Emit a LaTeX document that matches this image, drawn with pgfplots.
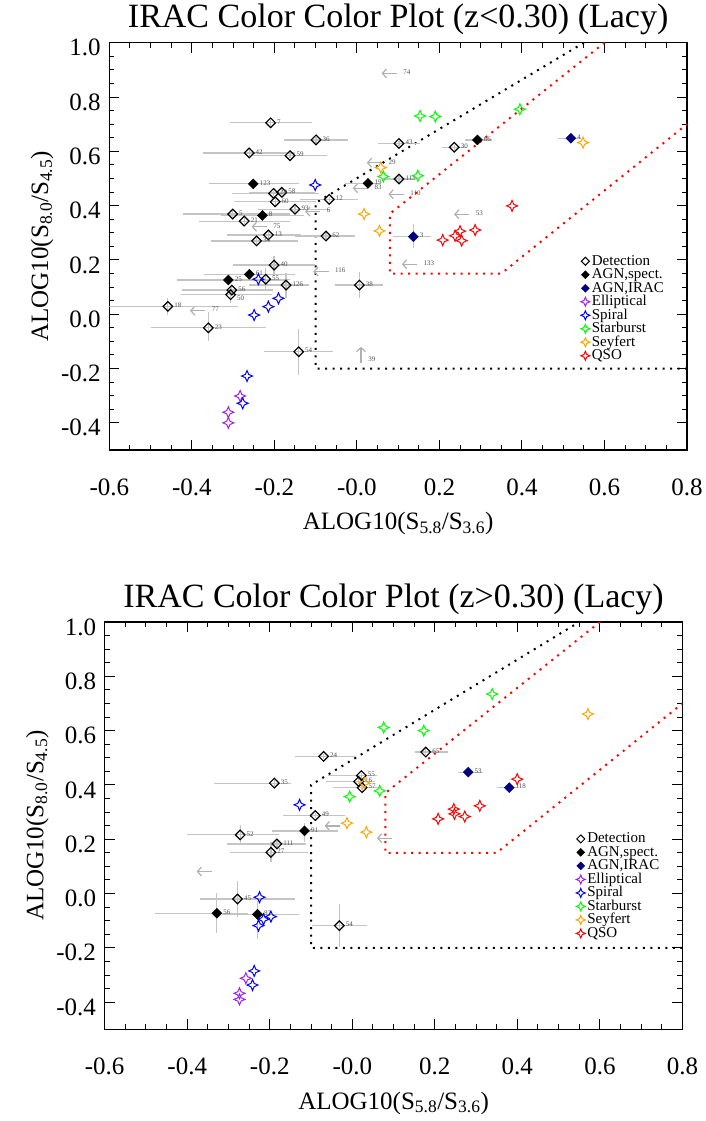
\documentclass[border=0pt]{standalone}
\usepackage{fontspec}
\setmainfont{Liberation Serif}
\usepackage{pgfplots}
\usepackage{pgfplotstable}
\pgfplotsset{compat=1.18}
\usetikzlibrary{arrows.meta}

\definecolor{ellip}{HTML}{A020F0}
\definecolor{spiral}{HTML}{0000FF}
\definecolor{starb}{HTML}{00FF00}
\definecolor{seyf}{HTML}{FFA500}
\definecolor{qso}{HTML}{FF0000}
\definecolor{agnirac}{HTML}{000080}
\definecolor{errgray}{HTML}{C4C4C4}
\definecolor{arrgray}{HTML}{B0B0B0}
\definecolor{labgray}{HTML}{505050}

% four-pointed star used for the template tracks
\pgfdeclareplotmark{star4}{%
  \pgfpathmoveto{\pgfqpoint{0pt}{\pgfplotmarksize}}%
  \pgfpathlineto{\pgfqpoint{.3\pgfplotmarksize}{.3\pgfplotmarksize}}%
  \pgfpathlineto{\pgfqpoint{\pgfplotmarksize}{0pt}}%
  \pgfpathlineto{\pgfqpoint{.3\pgfplotmarksize}{-.3\pgfplotmarksize}}%
  \pgfpathlineto{\pgfqpoint{0pt}{-\pgfplotmarksize}}%
  \pgfpathlineto{\pgfqpoint{-.3\pgfplotmarksize}{-.3\pgfplotmarksize}}%
  \pgfpathlineto{\pgfqpoint{-\pgfplotmarksize}{0pt}}%
  \pgfpathlineto{\pgfqpoint{-.3\pgfplotmarksize}{.3\pgfplotmarksize}}%
  \pgfpathclose\pgfusepathqstroke}
% square diamond, open and filled
\pgfdeclareplotmark{dia}{%
  \pgfpathmoveto{\pgfqpoint{0pt}{\pgfplotmarksize}}%
  \pgfpathlineto{\pgfqpoint{\pgfplotmarksize}{0pt}}%
  \pgfpathlineto{\pgfqpoint{0pt}{-\pgfplotmarksize}}%
  \pgfpathlineto{\pgfqpoint{-\pgfplotmarksize}{0pt}}%
  \pgfpathclose\pgfusepathqstroke}
\pgfdeclareplotmark{dia*}{%
  \pgfpathmoveto{\pgfqpoint{0pt}{\pgfplotmarksize}}%
  \pgfpathlineto{\pgfqpoint{\pgfplotmarksize}{0pt}}%
  \pgfpathlineto{\pgfqpoint{0pt}{-\pgfplotmarksize}}%
  \pgfpathlineto{\pgfqpoint{-\pgfplotmarksize}{0pt}}%
  \pgfpathclose\pgfusepathqfillstroke}

% ---------- z < 0.30 ----------
\pgfplotstableread{
x y xm xp ym yp lab
-0.209 0.705 0.098 0.100 0.01 0.01 7
-0.099 0.642 0.077 0.077 0.01 0.01 36
-0.261 0.594 0.111 0.110 0.01 0.01 42
-0.162 0.584 0.090 0.090 0.01 0.01 59
0.102 0.629 0.050 0.050 0.01 0.01 43
0.236 0.615 0.030 0.030 0.01 0.01 30
-0.067 0.423 0.070 0.070 0.01 0.01 12
-0.202 0.445 0.100 0.110 0.01 0.01 28
-0.182 0.449 0.080 0.080 0.01 0.01 58
-0.198 0.414 0.100 0.100 0.01 0.01 60
-0.150 0.387 0.090 0.085 0.01 0.01 93
-0.301 0.369 0.120 0.140 0.01 0.01 5
-0.273 0.343 0.110 0.110 0.01 0.01 21
-0.243 0.270 0.110 0.100 0.01 0.01 34
-0.2145 0.292 0.100 0.080 0.01 0.01 13
-0.075 0.288 0.075 0.070 0.01 0.01 62
-0.2007 0.181 0.100 0.100 0.040 0.035 40
-0.1716 0.1075 0.090 0.055 0.048 0.045 126
-0.221 0.129 0.060 0.060 0.040 0.040 55
-0.303 0.089 0.120 0.100 0.020 0.020 56
-0.458 0.029 0.142 0.170 0.030 0.030 18
-0.360 -0.050 0.140 0.140 0.050 0.060 23
0.006 0.1075 0.059 0.058 0.047 0.047 38
-0.141 -0.138 0.084 0.083 0.084 0.085 54
0.102 0.498 0.040 0.040 0.01 0.01 113
}\detA
% detection whose label sits just below its neighbour's
\pgfplotstableread{
x y xm xp ym yp lab
-0.306 0.072 0.120 0.100 0.030 0.030 50
}\detAlow
\pgfplotstableread{
x y xm xp ym yp lab
-0.251 0.480 0.108 0.110 0.01 0.01 123
-0.229 0.364 0.100 0.100 0.01 0.01 8
0.027 0.482 0.055 0.030 0.01 0.01 19
0.292 0.642 0.030 0.035 0.01 0.01 66
-0.2606 0.147 0.110 0.110 0.01 0.01 61
-0.3115 0.126 0.125 0.140 0.01 0.01 25
}\agnA
\pgfplotstableread{
x y xm xp ym yp lab
0.1367 0.2855 0.048 0.042 0.043 0.048 3
0.5185 0.648 0.030 0.025 0.01 0.01 4
}\iracA
\pgfplotstableread{
c x y
E -0.283 -0.301
E -0.3115 -0.361
E -0.3115 -0.400
S -0.101 0.476
S -0.2388 0.129
S -0.190 0.0585
S -0.2145 0.028
S -0.249 -0.003
S -0.2662 -0.2276
S -0.2767 -0.328
B 0.153 0.730
B 0.190 0.728
B 0.395 0.755
B 0.064 0.507
B 0.1476 0.510
Y 0.058 0.540
Y 0.0175 0.369
Y 0.0546 0.307
Y 0.548 0.632
Q 0.376 0.399
Q 0.208 0.273
Q 0.238 0.289
Q 0.250 0.306
Q 0.254 0.271
Q 0.2866 0.310
}\tplA
% upper limits: tail position, arrow points to smaller x
\pgfplotstableread{
x y lab
0.097 0.887 74
0.061 0.558 29
0.027 0.464 83
0.1135 0.442 110
0.2726 0.368 53
-0.0886 0.378 6
-0.218 0.322 75
-0.0685 0.157 116
-0.3674 0.013 77
0.146 0.184 133
}\arrA

% ---------- z > 0.30 ----------
\pgfplotstableread{
x y xm xp ym yp lab
-0.0695 0.505 0.070 0.075 0.01 0.01 24
-0.189 0.4066 0.145 0.040 0.01 0.01 35
0.022 0.4346 0.080 0.038 0.01 0.01 55
0.0154 0.4125 0.080 0.040 0.01 0.01 16
0.0237 0.390 0.070 0.040 0.01 0.01 57
-0.0897 0.287 0.078 0.072 0.01 0.01 49
0.178 0.521 0.025 0.055 0.01 0.01 65
-0.2717 0.216 0.130 0.095 0.037 0.037 52
-0.1826 0.1828 0.120 0.070 0.01 0.01 111
-0.1972 0.152 0.100 0.090 0.037 0.036 27
-0.2782 -0.020 0.090 0.140 0.065 0.065 45
-0.0314 -0.1183 0.067 0.067 0.078 0.080 54
}\detB
\pgfplotstableread{
x y xm xp ym yp lab
-0.1157 0.2307 0.080 0.080 0.040 0.030 91
-0.3282 -0.0726 0.150 0.075 0.073 0.073 56
-0.2297 -0.0763 0.087 0.100 0.090 0.050 82
}\agnB
\pgfplotstableread{
x y xm xp ym yp lab
0.2809 0.447 0.025 0.035 0.01 0.01 53
0.3803 0.3903 0.030 0.020 0.01 0.01 118
}\iracB
\pgfplotstableread{
c x y
E -0.2579 -0.312
E -0.2734 -0.3675
E -0.2734 -0.390
S -0.1278 0.3266
S -0.2248 -0.0136
S -0.2151 -0.0947
S -0.1972 -0.085
S -0.2273 -0.118
S -0.2377 -0.285
S -0.2418 -0.337
B 0.076 0.6115
B 0.339 0.7346
B 0.1732 0.600
B -0.0064 0.357
B 0.0664 0.378
Y 0.571 0.661
Y 0.029 0.4066
Y -0.0128 0.2591
Y 0.034 0.226
Q 0.3997 0.4213
Q 0.309 0.323
Q 0.246 0.311
Q 0.2476 0.2934
Q 0.2726 0.2835
Q 0.208 0.275
}\tplB
\pgfplotstableread{
x y
-0.030 0.249
0.097 0.2038
-0.340 0.081
}\arrB

\pgfplotsset{
  irac/.style={
    scale only axis, width=577.7pt, height=407.3pt,
    xmin=-0.6, xmax=0.8, ymin=-0.5, ymax=1.0,
    xtick={-0.6,-0.4,-0.2,0,0.2,0.4,0.6,0.8},
    xticklabels={-0.6,-0.4,-0.2,-0.0,0.2,0.4,0.6,0.8},
    ytick={-0.4,-0.2,0,0.2,0.4,0.6,0.8,1.0},
    yticklabels={-0.4,-0.2,0.0,0.2,0.4,0.6,0.8,1.0},
    minor tick num=3,
    tick align=inside, xtick pos=both, ytick pos=both,
    xticklabel pos=lower, yticklabel pos=left,
    major tick length=10pt, minor tick length=5pt,
    every tick/.style={black, line width=1pt},
    axis line style={black, line width=1.5pt},
    tick label style={font=\fontsize{25}{25}\selectfont},
    xticklabel style={anchor=base, yshift=-45pt},
    yticklabel style={anchor=east, inner sep=0pt, xshift=-8.5pt, yshift=-5pt},
    title style={font=\fontsize{34}{34}\selectfont, at={(axis description cs:0.5,1.022)}, anchor=base},
    label style={font=\fontsize{25}{25}\selectfont},
    xlabel style={at={(axis description cs:0.5,-0.196)}, anchor=base},
    ylabel style={at={(axis description cs:-0.106,0.5)}, anchor=base},
    xlabel={ALOG10(S\textsubscript{5.8}/S\textsubscript{3.6})},
    ylabel={ALOG10(S\textsubscript{8.0}/S\textsubscript{4.5})},
    legend style={draw=none, fill=none, anchor=north west,
      font=\fontsize{15}{15}\selectfont, row sep=0pt,
      nodes={inner ysep=0pt, text height=10.5pt, text depth=3pt}},
    legend cell align=left,
    legend image code/.code={\draw[#1] plot coordinates {(0pt,0pt)};},
  },
  errs/.style={
    error bars/.cd, x dir=both, x explicit, y dir=both, y explicit,
    error mark=none, error bar style={errgray, line width=1.2pt, solid}},
  numlab/.style={nodes near coords, point meta=explicit symbolic,
    nodes near coords style={font=\fontsize{7}{7}\selectfont, text=labgray,
      anchor=west, xshift=3pt, yshift=1pt}},
  tpl/.style={scatter, only marks, mark=star4, mark size=5.5pt, line width=1pt,
    scatter src=explicit symbolic,
    scatter/classes={E={ellip}, S={spiral}, B={starb}, Y={seyf}, Q={qso}}},
  limarr/.style={arrgray, line width=1.2pt, -{Straight Barb[length=4pt,width=9pt]},
    quiver={u=-0.037, v=0}},
  dotline/.style={line width=2pt, dash pattern=on 2pt off 5.5pt},
}

\newcommand{\iraclegend}{%
  \addlegendimage{only marks, mark=dia, mark size=4pt, black, line width=1pt}
  \addlegendentry{Detection}
  \addlegendimage{only marks, mark=dia*, mark size=4pt, black}
  \addlegendentry{AGN,spect.}
  \addlegendimage{only marks, mark=dia*, mark size=4pt, agnirac, fill=agnirac}
  \addlegendentry{AGN,IRAC}
  \addlegendimage{only marks, mark=star4, mark size=4.5pt, ellip, line width=1pt}
  \addlegendentry{Elliptical}
  \addlegendimage{only marks, mark=star4, mark size=4.5pt, spiral, line width=1pt}
  \addlegendentry{Spiral}
  \addlegendimage{only marks, mark=star4, mark size=4.5pt, starb, line width=1pt}
  \addlegendentry{Starburst}
  \addlegendimage{only marks, mark=star4, mark size=4.5pt, seyf, line width=1pt}
  \addlegendentry{Seyfert}
  \addlegendimage{only marks, mark=star4, mark size=4.5pt, qso, line width=1pt}
  \addlegendentry{QSO}}

\begin{document}
\begin{tikzpicture}
\useasboundingbox (0,0) rectangle (706pt,-1121pt);

\begin{axis}[irac, at={(109.3pt,-450pt)}, anchor=south west,
  title={IRAC Color Color Plot (z<0.30) (Lacy)},
  legend style={at={(axis cs:0.535,0.228)}}]
\addplot[forget plot, dotline, black] coordinates {(0.8,-0.2) (-0.1,-0.2) (-0.1,0.41) (0.55,1.0)};
\addplot[forget plot, dotline, qso] coordinates {(0.6,1.0) (0.08,0.37) (0.08,0.15) (0.35,0.15) (0.8,0.70)};
\addplot[forget plot, limarr] table[x=x, y=y] {\arrA};
\addplot[forget plot, draw=none, numlab] table[x=x, y=y, meta=lab] {\arrA};
\addplot[forget plot, arrgray, line width=1.2pt, -{Straight Barb[length=4pt,width=9pt]}, quiver={u=0, v=0.061}]
  coordinates {(0.010,-0.181)};
\addplot[forget plot, draw=none, numlab] coordinates {(0.012,-0.168) [39]};
\addplot[forget plot, only marks, mark=dia, mark size=4.8pt, black, line width=1.2pt, errs]
  table[x=x, y=y, x error minus=xm, x error plus=xp, y error minus=ym, y error plus=yp] {\detA};
\addplot[forget plot, only marks, mark=dia, mark size=4.8pt, black, line width=1.2pt, errs]
  table[x=x, y=y, x error minus=xm, x error plus=xp, y error minus=ym, y error plus=yp] {\detAlow};
\addplot[forget plot, only marks, mark=dia*, mark size=5pt, black, errs]
  table[x=x, y=y, x error minus=xm, x error plus=xp, y error minus=ym, y error plus=yp] {\agnA};
\addplot[forget plot, only marks, mark=dia*, mark size=5pt, agnirac, fill=agnirac, errs]
  table[x=x, y=y, x error minus=xm, x error plus=xp, y error minus=ym, y error plus=yp] {\iracA};
\addplot[forget plot, draw=none, numlab] table[x=x, y=y, meta=lab] {\detA};
\addplot[forget plot, draw=none, numlab, nodes near coords style={yshift=-5pt}]
  table[x=x, y=y, meta=lab] {\detAlow};
\addplot[forget plot, draw=none, numlab] table[x=x, y=y, meta=lab] {\agnA};
\addplot[forget plot, draw=none, numlab] table[x=x, y=y, meta=lab] {\iracA};
\addplot[forget plot, tpl] table[x=x, y=y, meta=c] {\tplA};
\iraclegend
\end{axis}

\begin{axis}[irac, at={(104.7pt,-1029.3pt)}, anchor=south west,
  title={IRAC Color Color Plot (z>0.30) (Lacy)},
  legend style={at={(axis cs:0.535,0.234)}}]
\addplot[forget plot, dotline, black] coordinates {(0.8,-0.2) (-0.1,-0.2) (-0.1,0.40) (0.55,1.0)};
\addplot[forget plot, dotline, qso] coordinates {(0.6,1.0) (0.08,0.37) (0.08,0.15) (0.35,0.15) (0.8,0.70)};
\addplot[forget plot, limarr] table[x=x, y=y] {\arrB};
\addplot[forget plot, only marks, mark=dia, mark size=4.8pt, black, line width=1.2pt, errs]
  table[x=x, y=y, x error minus=xm, x error plus=xp, y error minus=ym, y error plus=yp] {\detB};
\addplot[forget plot, only marks, mark=dia*, mark size=5pt, black, errs]
  table[x=x, y=y, x error minus=xm, x error plus=xp, y error minus=ym, y error plus=yp] {\agnB};
\addplot[forget plot, only marks, mark=dia*, mark size=5pt, agnirac, fill=agnirac, errs]
  table[x=x, y=y, x error minus=xm, x error plus=xp, y error minus=ym, y error plus=yp] {\iracB};
\addplot[forget plot, draw=none, numlab] table[x=x, y=y, meta=lab] {\detB};
\addplot[forget plot, draw=none, numlab] table[x=x, y=y, meta=lab] {\agnB};
\addplot[forget plot, draw=none, numlab] table[x=x, y=y, meta=lab] {\iracB};
\addplot[forget plot, tpl] table[x=x, y=y, meta=c] {\tplB};
\iraclegend
\end{axis}
\end{tikzpicture}
\end{document}
